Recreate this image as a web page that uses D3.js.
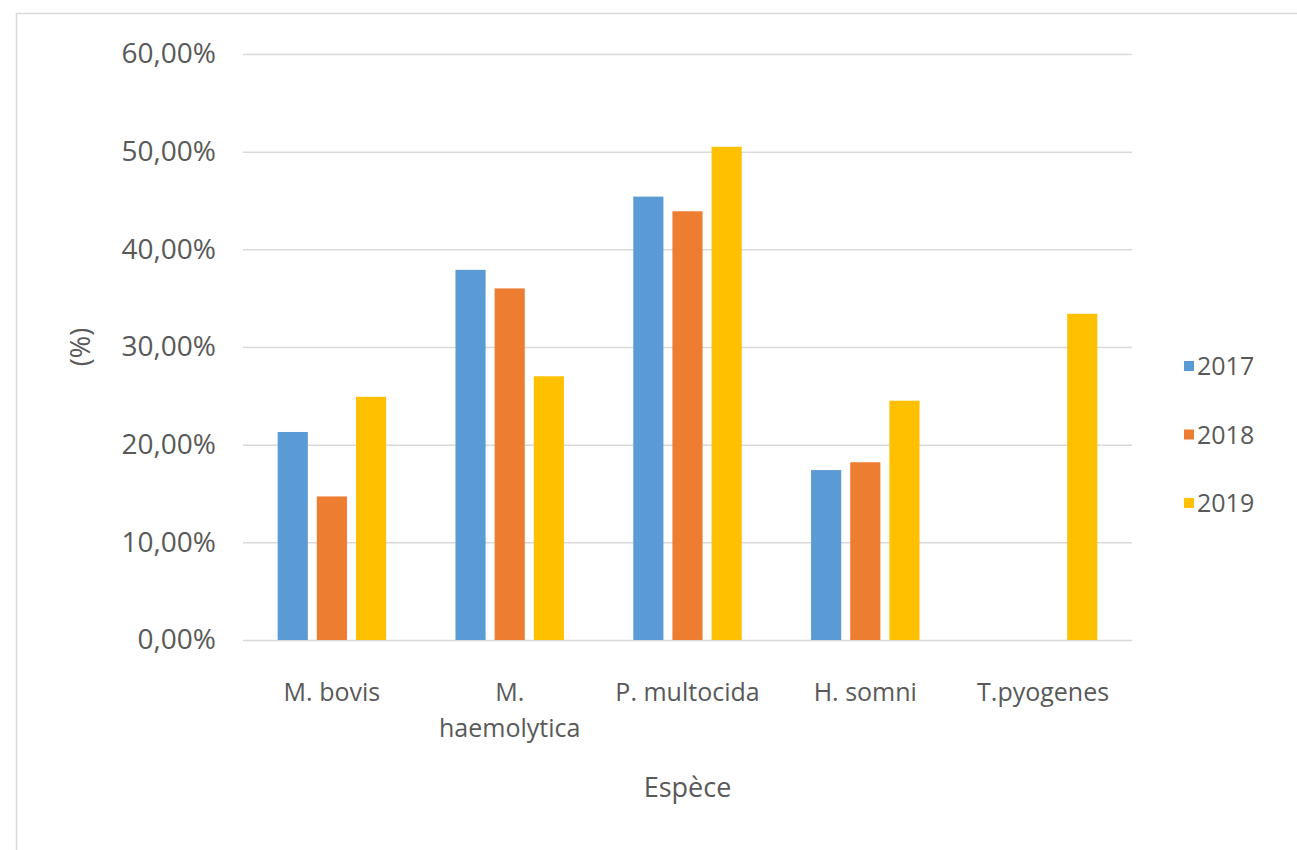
<!DOCTYPE html>
<html>
<head>
<meta charset="utf-8">
<script src="https://cdn.jsdelivr.net/npm/d3@7"></script>
<style>
  body { margin: 0; background: #fff; }
  text { font-family: "Open Sans", sans-serif; fill: #595959; }
</style>
</head>
<body>
<div id="chart"></div>
<script>
const categories = ["M. bovis", "M. haemolytica", "P. multocida", "H. somni", "T.pyogenes"];
const years = ["2017", "2018", "2019"];
const values2017 = [21.3, 37.9, 45.4, 17.4, null];
const values2018 = [14.7, 36.0, 43.9, 18.2, null];
const values2019 = [24.9, 27.0, 50.5, 24.5, 33.4];
const yTicks = [0, 10, 20, 30, 40, 50, 60];
const colors = ["#5B9BD5", "#ED7D31", "#FFC000"];

const W = 1297, H = 850;
const MARGIN = { top: 54, right: 165, bottom: 210, left: 243 };
const WIDTH = W - MARGIN.left - MARGIN.right;
const HEIGHT = H - MARGIN.top - MARGIN.bottom;

const series = [values2017, values2018, values2019];
const data = categories.map((c, i) => ({
    cat: c,
    vals: years.map((y, j) => ({ year: y, v: series[j][i], idx: j }))
}));

const root = d3.select("#chart").append("svg")
    .attr("width", W)
    .attr("height", H);

// chart border
root.append("rect")
    .attr("x", 16.5).attr("y", 13.5)
    .attr("width", W).attr("height", H)
    .attr("fill", "none")
    .attr("stroke", "#d9d9d9")
    .attr("stroke-width", 1.5);

const svg = root.append("g")
    .attr("transform", `translate(${MARGIN.left}, ${MARGIN.top})`);

const x0 = d3.scaleBand()
    .domain(categories)
    .range([0, WIDTH])
    .paddingInner(0.39)
    .paddingOuter(0.195);

const x1 = d3.scaleBand()
    .domain(years)
    .range([0, x0.bandwidth()])
    .paddingInner(0.23);

const y = d3.scaleLinear()
    .domain([0, 60])
    .range([HEIGHT, 0]);

const fmt = d => d3.format(".2f")(d).replace(".", ",") + "%";

// gridlines
svg.append("g")
    .selectAll("line")
    .data(yTicks)
    .enter()
    .append("line")
    .attr("x1", 0)
    .attr("x2", WIDTH)
    .attr("y1", d => y(d) + 0.5)
    .attr("y2", d => y(d) + 0.5)
    .attr("stroke", "#d9d9d9")
    .attr("stroke-width", 1.5);

// y axis labels
const yAxis = svg.append("g")
    .call(d3.axisLeft(y).tickValues(yTicks).tickFormat(fmt).tickSize(0).tickPadding(27));
yAxis.select(".domain").remove();
yAxis.selectAll("text")
    .attr("font-size", 28)
    .attr("font-family", "Open Sans, sans-serif")
    .attr("fill", "#595959");

// bars
const groups = svg.selectAll(".grp")
    .data(data)
    .enter()
    .append("g")
    .attr("class", "grp")
    .attr("transform", d => `translate(${x0(d.cat)}, 0)`);

groups.selectAll("rect")
    .data(d => d.vals.filter(v => v.v != null))
    .enter()
    .append("rect")
    .attr("x", d => x1(d.year))
    .attr("width", x1.bandwidth())
    .attr("y", d => y(d.v))
    .attr("height", d => y(0) - y(d.v))
    .attr("fill", d => colors[d.idx]);

// x axis labels, wrapped like Excel
const xAxis = svg.append("g")
    .attr("transform", `translate(0, ${HEIGHT})`)
    .call(d3.axisBottom(x0).tickSize(0).tickPadding(0));
xAxis.select(".domain").remove();
xAxis.selectAll("text")
    .attr("font-size", 25)
    .attr("font-family", "Open Sans, sans-serif")
    .attr("fill", "#595959")
    .attr("dy", null)
    .attr("y", 61)
    .each(function (d) {
        const t = d3.select(this);
        t.text(null);
        const words = d.split(" ");
        const probe = t.append("tspan").text(d);
        const fits = probe.node().getComputedTextLength() < x0.step() * 0.95;
        probe.remove();
        if (fits) {
            t.append("tspan").attr("x", 0).text(d);
        } else {
            words.forEach((w, i) => {
                t.append("tspan").attr("x", 0).attr("dy", i === 0 ? 0 : 36).text(w);
            });
        }
    });

// axis titles
svg.append("text")
    .attr("x", WIDTH / 2)
    .attr("y", HEIGHT + 157)
    .attr("text-anchor", "middle")
    .attr("font-size", 27)
    .text("Espèce");

svg.append("text")
    .attr("transform", `translate(${90 - MARGIN.left}, ${y(30)}) rotate(-90)`)
    .attr("text-anchor", "middle")
    .attr("font-size", 27)
    .text("(%)");

// legend
const legend = root.append("g")
    .attr("transform", "translate(1184, 366)");

const item = legend.selectAll("g")
    .data(years)
    .enter()
    .append("g")
    .attr("transform", (d, i) => `translate(0, ${i * 68.5})`);

item.append("rect")
    .attr("x", 0).attr("y", -5)
    .attr("width", 10).attr("height", 10)
    .attr("fill", (d, i) => colors[i]);

item.append("text")
    .attr("x", 13)
    .attr("y", 9)
    .attr("font-size", 25)
    .text(d => d);
</script>
</body>
</html>
